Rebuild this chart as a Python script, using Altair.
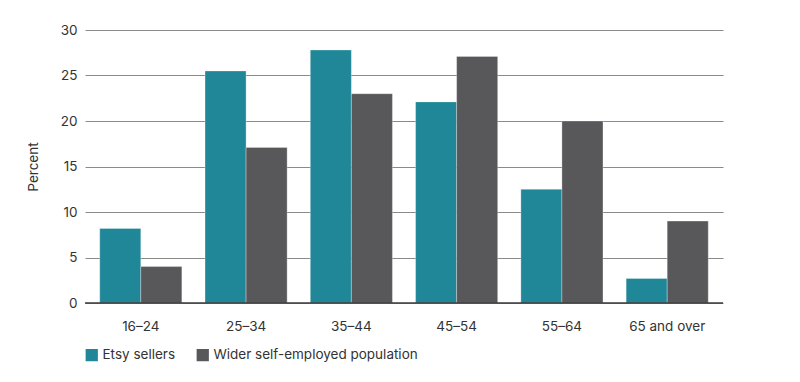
import altair as alt
import pandas as pd

ages = ["16–24", "25–34", "35–44", "45–54", "55–64", "65 and over"]
etsy = [8.2, 25.5, 27.8, 22.1, 12.5, 2.7]
wider = [4.0, 17.1, 23.0, 27.1, 20.0, 9.0]
series = ["Etsy sellers", "Wider self-employed population"]
colors = ["#1f8798", "#58585a"]

rows = []
for a, e, w in zip(ages, etsy, wider):
    rows.append({"age": a, "series": series[0], "value": e})
    rows.append({"age": a, "series": series[1], "value": w})
df = pd.DataFrame(rows)

font = "Inter"
fs = 13.5

bars = alt.Chart(df).mark_bar(stroke="white", strokeWidth=0.6, strokeOpacity=0.5).encode(
    x=alt.X("age:N", sort=ages, title=None,
            scale=alt.Scale(paddingInner=0.22, paddingOuter=0.14),
            axis=alt.Axis(labelAngle=0, labelFontSize=fs, labelColor="#333333",
                          labelFont=font, ticks=False, domain=False, labelPadding=16)),
    xOffset=alt.XOffset("series:N", sort=series),
    y=alt.Y("value:Q", title="Percent",
            scale=alt.Scale(domain=[0, 30]),
            axis=alt.Axis(values=[0, 5, 10, 15, 20, 25, 30], labelFontSize=fs,
                          labelColor="#333333", labelFont=font, ticks=False,
                          domain=False, labelPadding=8, gridColor="#8a8a8a",
                          gridWidth=1.2, titleFont=font, titleFontSize=fs,
                          titleFontWeight="normal", titleColor="#333333",
                          titlePadding=20)),
    color=alt.Color("series:N", sort=series,
                    scale=alt.Scale(domain=series, range=colors),
                    legend=alt.Legend(title=None, orient="none", legendX=0, legendY=318,
                                      direction="horizontal", symbolType="square",
                                      symbolSize=150, symbolStrokeWidth=0,
                                      labelFont=font, labelFontSize=fs, labelLimit=400,
                                      labelColor="#333333", columnPadding=20,
                                      symbolOpacity=1)),
)

base = alt.Chart(pd.DataFrame({"v": [0]})).mark_rule(color="#3a3a3a", strokeWidth=1.5).encode(
    y=alt.Y("v:Q", scale=alt.Scale(domain=[0, 30]))
)

chart = alt.layer(bars, base).properties(
    width=638, height=273,
    autosize=alt.AutoSizeParams(type="none"),
    padding={"left": 77, "top": 22, "right": 10, "bottom": 72},
).configure_view(stroke=None)

chart.save("out.html", embed_options={"renderer": "svg", "actions": False})
